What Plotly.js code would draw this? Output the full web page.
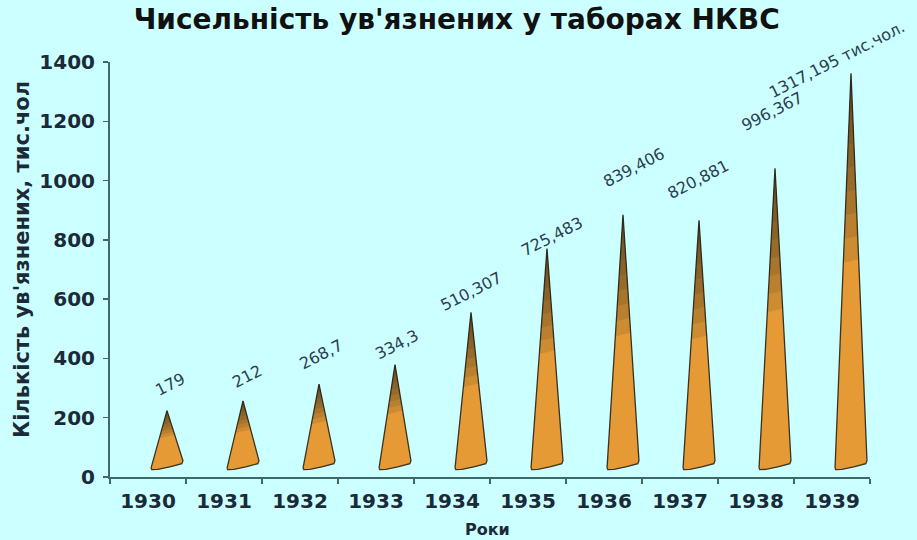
<!DOCTYPE html>
<html>
<head>
<meta charset="utf-8">
<script src="https://cdn.plot.ly/plotly-3.0.1.min.js"></script>
<style>html,body{margin:0;padding:0;background:#ccffff;}#chart{width:917px;height:540px;}</style>
</head>
<body>
<div id="chart"></div>
<script>
// ---- data ----
const years = ['1930','1931','1932','1933','1934','1935','1936','1937','1938','1939'];
const prisoners = [179, 212, 268.7, 334.3, 510.307, 725.483, 839.406, 820.881, 996.367, 1317.195];
const valueLabels = ['179','212','268,7','334,3','510,307','725,483','839,406','820,881','996,367','1317,195 тис.чол.'];
const yTicks = [0, 200, 400, 600, 800, 1000, 1200, 1400];

// ---- style ----
const DEPTH = 45;               // 3D perspective lift of cone tip (axis units)
const labelLift = [26, 24, 30, 20, 21, 12, 47, 41, 57, 14];   // px above tip
const labelDx   = [3, 4, 2, 2, 0, 5, 11, -1, -3, -14];        // px right of tip
const shadeSteps = [0.06, 0.12, 0.18, 0.24, 0.30, 0.36, 0.42, 0.48];
const ink = '#1b2a38';
const axisCol = '#3f6a6a';

// cone outline relative to category index (x) and value (y)
function conePts(i, v) {
  const tip = [i + 0.25, v + DEPTH];
  const L = [i + 0.04, 30], R = [i + 0.46, 55];
  return {tip, L, R,
    poly: [L, tip, R, [i + 0.445, 45], [i + 0.30, 35], [i + 0.13, 26], [i + 0.05, 25], L]};
}
function band(c, f) {
  const l = [c.tip[0] + f * (c.L[0] - c.tip[0]), c.tip[1] + f * (c.L[1] - c.tip[1])];
  const r = [c.tip[0] + f * (c.R[0] - c.tip[0]), c.tip[1] + f * (c.R[1] - c.tip[1])];
  return [l, c.tip, r, l];
}
const cx = [], cy = [];
const bx = [], by = [];
prisoners.forEach((v, i) => {
  const c = conePts(i, v);
  c.poly.forEach(p => { cx.push(p[0]); cy.push(p[1]); }); cx.push(null); cy.push(null);
});
shadeSteps.forEach(f => {
  const xs = [], ys = [];
  prisoners.forEach((v, i) => {
    band(conePts(i, v), f).forEach(p => { xs.push(p[0]); ys.push(p[1]); }); xs.push(null); ys.push(null);
  });
  bx.push(xs); by.push(ys);
});

const traces = [
  {x: years, y: prisoners.map(() => null), type: 'scatter', mode: 'lines', xaxis: 'x', yaxis: 'y',
   hoverinfo: 'skip', showlegend: false},
  {x: cx, y: cy, xaxis: 'x2', yaxis: 'y', type: 'scatter', mode: 'lines', fill: 'toself',
   fillcolor: '#e59a35', line: {color: '#3b3220', width: 1.3}, hoverinfo: 'skip', showlegend: false}
];
bx.forEach((xs, k) => traces.push({
  x: xs, y: by[k], xaxis: 'x2', yaxis: 'y', type: 'scatter', mode: 'lines', fill: 'toself',
  fillcolor: 'rgba(45,42,35,0.12)', line: {width: 0}, hoverinfo: 'skip', showlegend: false
}));

const annotations = prisoners.map((v, i) => ({
  x: i + 0.25, y: v + DEPTH, xref: 'x2', yref: 'y', text: valueLabels[i], showarrow: false,
  textangle: -27, xshift: labelDx[i], yshift: labelLift[i],
  font: {family: 'DejaVu Sans', size: 16, color: '#2b3d4f'}
}));
annotations.push({
  text: "Кількість ув'язнених, тис.чол", xref: 'paper', yref: 'paper', x: (22 - 110) / 760, y: (477 - 260) / 415,
  xanchor: 'center', yanchor: 'middle', textangle: -90, showarrow: false,
  font: {family: 'DejaVu Sans', size: 21, weight: 'bold', color: ink}
});
annotations.push({
  text: 'Роки', xref: 'paper', yref: 'paper', x: (487 - 110) / 760, y: (477 - 529) / 415,
  xanchor: 'center', yanchor: 'middle', showarrow: false,
  font: {family: 'DejaVu Sans', size: 16, weight: 'bold', color: ink}
});

const layout = {
  width: 917, height: 540,
  paper_bgcolor: '#ccffff', plot_bgcolor: '#ccffff',
  margin: {l: 110, r: 47, t: 62, b: 63},
  title: {text: "Чисельність ув'язнених у таборах НКВС", x: 0.498, xanchor: 'center',
          y: 0.982, yanchor: 'top', yref: 'container', pad: {t: 0, b: 0},
          font: {family: 'DejaVu Sans', size: 28, weight: 'bold', color: '#111'}},
  xaxis: {type: 'category', categoryarray: years, range: [-0.5, 9.5], tickson: 'boundaries',
          ticks: 'outside', ticklen: 5, tickwidth: 1.5, tickcolor: axisCol,
          showline: true, linecolor: axisCol, linewidth: 2, showgrid: false, zeroline: false,
          ticklabelstandoff: 5,
          tickfont: {family: 'DejaVu Sans', size: 20, weight: 'bold', color: ink}},
  xaxis2: {overlaying: 'x', anchor: 'y', range: [-0.5, 9.5], visible: false, showgrid: false, zeroline: false},
  yaxis: {range: [0, 1400], tickvals: yTicks, ticks: 'outside', ticklen: 5, tickwidth: 1.5,
          tickcolor: axisCol, showline: true, linecolor: axisCol, linewidth: 2,
          showgrid: false, zeroline: false, ticklabelstandoff: 4,
          tickfont: {family: 'DejaVu Sans', size: 20, weight: 'bold', color: ink}},
  annotations: annotations,
  showlegend: false
};

Plotly.newPlot('chart', traces, layout, {displayModeBar: false, staticPlot: true});
</script>
</body>
</html>
